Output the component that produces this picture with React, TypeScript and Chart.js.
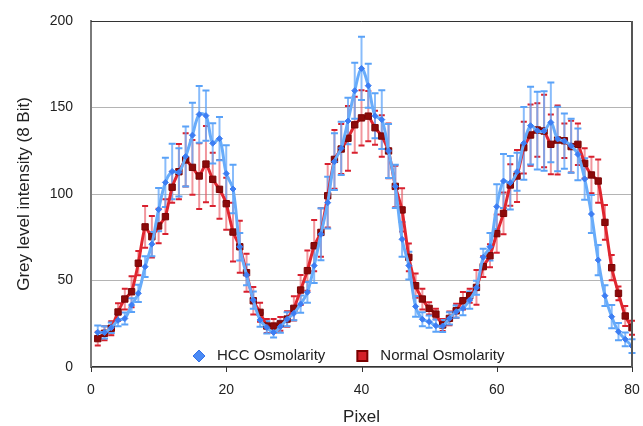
import React, { useEffect, useRef } from "react";
import { Chart, registerables } from "chart.js";

Chart.register(...registerables);

const pixels: number[] = Array.from({ length: 80 }, (_, i) => i + 1);

const hccValues: number[] = [
  20, 20, 22.7, 27, 28, 35.8, 42.6, 58, 71, 91,
  106.7, 113, 112.5, 121.7, 134, 146, 145.3, 129.3, 132, 111.8,
  102.9, 69.5, 53.2, 38.7, 27.2, 22.9, 20, 23.3, 27.6, 31,
  36.4, 43.2, 58.6, 76.7, 95, 118.7, 126.4, 142.2, 159.7, 172.6,
  162.6, 145.2, 143, 124.9, 104.4, 73.8, 58.6, 35, 27.6, 26.2,
  23.9, 23.7, 28.1, 32, 33.9, 38.7, 45.8, 63.4, 69.5, 92.7,
  107.5, 106.5, 112.9, 129.3, 139.5, 136.6, 136.4, 141.4, 131.8, 130.6,
  127.9, 122.9, 108.7, 88.4, 61.8, 41.2, 29.1, 20.4, 16, 12.1,
];

const hccErrors: number[] = [
  4, 3.5, 3, 3.5, 3.5, 4, 5, 6, 7, 12.5,
  14.2, 16, 14, 17.3, 18.7, 16.4, 14.5, 11.6, 12.5, 16.4,
  14, 8, 6, 5, 4, 3.5, 3, 3.5, 4, 4,
  5, 6, 10, 15, 15, 16.4, 15.4, 13.5, 16.2, 18.3,
  12.7, 13, 17, 15.6, 12.5, 10, 8, 6, 4, 3.5,
  3.5, 3.5, 3.5, 3.5, 4, 5, 4, 5, 8, 13,
  15.6, 15.4, 11, 21, 22.5, 22.5, 23, 23, 18.7, 16,
  15.6, 15, 12, 11, 8.7, 6, 6.7, 5, 4, 4,
];

const normalValues: number[] = [
  16.4, 19.5, 22.4, 31.8, 39.3, 43.5, 60, 81, 75.3, 81.5,
  86.9, 103.9, 112.9, 119.7, 115.4, 110.4, 117.3, 108.5, 102.7, 94.4,
  78, 69.5, 54.5, 38.3, 31.6, 23.7, 23.7, 24.9, 27.7, 33.9,
  44.5, 55.7, 70.1, 77.8, 99, 120, 126, 132.2, 140, 144,
  145, 138.3, 133.5, 124.9, 104.4, 90.8, 63.4, 47, 39.3, 33.9,
  30.6, 24.3, 28.1, 32.5, 38.3, 41.2, 46, 58, 64.3, 77.1,
  88.8, 105.2, 110.4, 126.8, 134.1, 137, 136.4, 128.7, 131.2, 130.8,
  127.4, 128.7, 117.7, 111, 107.5, 83.6, 57.4, 42.6, 29.5, 22.7,
];

const normalErrors: number[] = [
  4, 4, 4, 5, 6, 9, 7, 12, 12, 10,
  10, 9, 16, 15.4, 15.8, 19, 22, 15.4, 17, 15,
  17, 15, 11, 8, 5.5, 4, 4, 4, 4.5, 7,
  8.7, 11.6, 14.8, 14, 18.3, 17, 14.5, 18.7, 16.2, 16,
  14.5, 9.8, 12, 15.8, 12, 12.5, 8, 7, 6, 3.5,
  3, 3.5, 4, 4, 5, 4, 10, 6, 6.6, 11,
  12, 12, 15, 15, 17.7, 15.4, 21, 17.3, 20, 10,
  15, 12, 8.7, 10.6, 12.5, 10, 7.3, 4, 5.8, 4,
];

const seriesLabels: string[] = ["HCC Osmolarity", "Normal Osmolarity"];
const yTicks: number[] = [0, 50, 100, 150, 200];
const xTicks: number[] = [0, 20, 40, 60, 80];

const FONT = '"Liberation Sans", Arial, Helvetica, sans-serif';

const errorBarPlugin = {
  id: "errorBars",
  beforeDatasetsDraw(chart: any) {
    const { ctx } = chart;
    const xs = chart.scales.x;
    const ys = chart.scales.y;
    const sets = [
      { vals: normalValues, errs: normalErrors, line: "rgba(232,80,92,0.6)", cap: "#d8202e", capW: 3 },
      { vals: hccValues, errs: hccErrors, line: "rgba(98,166,250,0.75)", cap: "#5aa2f8", capW: 3.5 },
    ];
    ctx.save();
    for (const s of sets) {
      for (let i = 0; i < pixels.length; i++) {
        const px = xs.getPixelForValue(pixels[i]);
        const top = ys.getPixelForValue(s.vals[i] + s.errs[i]);
        const bot = ys.getPixelForValue(s.vals[i] - s.errs[i]);
        ctx.strokeStyle = s.line;
        ctx.lineWidth = 2;
        ctx.beginPath();
        ctx.moveTo(px, top);
        ctx.lineTo(px, bot);
        ctx.stroke();
        ctx.strokeStyle = s.cap;
        ctx.lineWidth = 2;
        ctx.beginPath();
        ctx.moveTo(px - s.capW, top);
        ctx.lineTo(px + s.capW, top);
        ctx.moveTo(px - s.capW, bot);
        ctx.lineTo(px + s.capW, bot);
        ctx.stroke();
      }
    }
    ctx.restore();
  },
};

const framePlugin = {
  id: "frameAndLegend",
  afterDraw(chart: any) {
    const { ctx, chartArea } = chart;
    const { left, right, top, bottom } = chartArea;
    const xs = chart.scales.x;
    ctx.save();
    ctx.strokeStyle = "#333";
    ctx.lineWidth = 1;
    ctx.beginPath();
    ctx.moveTo(left, top + 0.5);
    ctx.lineTo(right, top + 0.5);
    ctx.stroke();
    ctx.strokeStyle = "#555";
    ctx.lineWidth = 2;
    ctx.beginPath();
    ctx.moveTo(right, top);
    ctx.lineTo(right, bottom);
    ctx.stroke();

    // x tick marks
    ctx.strokeStyle = "#333";
    ctx.lineWidth = 1;
    ctx.beginPath();
    for (const v of xTicks) {
      const px = Math.round(xs.getPixelForValue(v)) + 0.5;
      ctx.moveTo(px, bottom);
      ctx.lineTo(px, bottom + 5);
    }
    ctx.stroke();

    // legend inside plot area
    ctx.font = `15px ${FONT}`;
    ctx.textBaseline = "middle";
    ctx.textAlign = "left";
    const ly = bottom - 11;
    let cx = left + 108;
    ctx.fillStyle = "#4a8af5";
    ctx.strokeStyle = "#3572e8";
    ctx.lineWidth = 1;
    ctx.beginPath();
    ctx.moveTo(cx, ly - 6);
    ctx.lineTo(cx + 6, ly);
    ctx.lineTo(cx, ly + 6);
    ctx.lineTo(cx - 6, ly);
    ctx.closePath();
    ctx.fill();
    ctx.stroke();
    ctx.fillStyle = "#222";
    const t1x = cx + 18;
    ctx.fillText(seriesLabels[0], t1x, ly);
    const w1 = ctx.measureText(seriesLabels[0]).width;
    cx = t1x + w1 + 37;
    ctx.fillStyle = "#d42028";
    ctx.strokeStyle = "#7a0000";
    ctx.lineWidth = 2;
    ctx.fillRect(cx - 5, ly - 5, 10, 10);
    ctx.strokeRect(cx - 5, ly - 5, 10, 10);
    ctx.fillStyle = "#222";
    ctx.fillText(seriesLabels[1], cx + 18, ly);
    ctx.restore();
  },
};

export default function App() {
  const ref = useRef<HTMLCanvasElement | null>(null);

  useEffect(() => {
    document.body.style.margin = "0";
    if (!ref.current) return;
    const chart = new Chart(ref.current, {
      type: "line",
      data: {
        datasets: [
          {
            label: seriesLabels[0],
            data: pixels.map((p, i) => ({ x: p, y: hccValues[i] })),
            borderColor: "#68acfa",
            borderWidth: 3,
            tension: 0.35,
            pointStyle: "rectRot",
            pointRadius: 3,
            pointBackgroundColor: "#3d7ef3",
            pointBorderColor: "#3d7ef3",
            pointBorderWidth: 1,
            order: 0,
          },
          {
            label: seriesLabels[1],
            data: pixels.map((p, i) => ({ x: p, y: normalValues[i] })),
            borderColor: "#e0262f",
            borderWidth: 3,
            tension: 0.15,
            pointStyle: "rect",
            pointRadius: 4.5,
            pointBackgroundColor: "#8c0a0a",
            pointBorderColor: "#7a0505",
            pointBorderWidth: 1,
            order: 1,
          },
        ],
      },
      options: {
        animation: false,
        responsive: false,
        devicePixelRatio: 1,
        layout: { padding: { top: 21, right: 11, left: 0, bottom: 0 } },
        plugins: {
          legend: { display: false },
          tooltip: { enabled: false },
        },
        scales: {
          x: {
            type: "linear",
            min: 0,
            max: 80,
            afterBuildTicks: (scale: any) => {
              scale.ticks = xTicks.map((v) => ({ value: v }));
            },
            afterFit: (scale: any) => {
              scale.height = 59;
            },
            ticks: {
              color: "#222",
              font: { family: FONT, size: 14 },
              padding: 0,
              maxRotation: 0,
            },
            grid: {
              display: true,
              drawOnChartArea: false,
              drawTicks: true,
              tickLength: 15,
              tickColor: "rgba(0,0,0,0)",
              color: "rgba(0,0,0,0)",
            },
            border: { display: true, color: "#333", width: 1.5 },
            title: {
              display: true,
              text: "Pixel",
              color: "#222",
              font: { family: FONT, size: 17, lineHeight: 1.05 },
              padding: { top: 0, bottom: 0 },
            },
          },
          y: {
            type: "linear",
            min: 0,
            max: 200,
            afterBuildTicks: (scale: any) => {
              scale.ticks = yTicks.map((v) => ({ value: v }));
            },
            afterFit: (scale: any) => {
              scale.width = 91;
            },
            ticks: {
              color: "#222",
              font: { family: FONT, size: 14 },
              padding: 0,
            },
            grid: {
              display: true,
              drawOnChartArea: true,
              drawTicks: true,
              tickLength: 18,
              tickColor: "rgba(0,0,0,0)",
              color: "#b4b4b4",
              lineWidth: 1,
            },
            border: { display: true, color: "#7a7a7a", width: 2 },
            title: {
              display: true,
              text: "Grey level intensity (8 Bit)",
              color: "#222",
              font: { family: FONT, size: 17 },
              padding: { top: 14, bottom: 0 },
            },
          },
        },
      },
      plugins: [errorBarPlugin, framePlugin],
    } as any);
    return () => chart.destroy();
  }, []);

  return (
    <div style={{ width: 643, height: 426, position: "relative", background: "#fff" }}>
      <canvas ref={ref} width={643} height={426} />
    </div>
  );
}
